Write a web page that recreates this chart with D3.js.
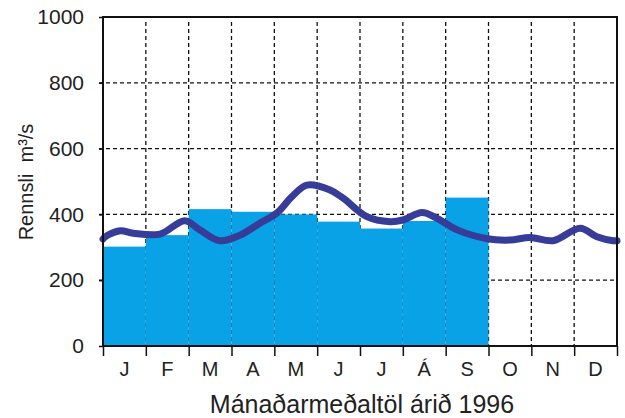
<!DOCTYPE html>
<html>
<head>
<meta charset="utf-8">
<script src="https://cdn.jsdelivr.net/npm/d3@7"></script>
<style>
  body { margin: 0; background: #fff; }
  svg text { font-family: "Liberation Sans", Arial, sans-serif; fill: #222; }
</style>
</head>
<body>
<svg id="chart" width="625" height="418"></svg>
<script>
// monthly means 1996 (bars, Jan-Sep only)
const months = ["J", "F", "M", "A", "M", "J", "J", "Á", "S", "O", "N", "D"]
const monthlyMeans = [302, 337, 416, 408, 400, 378, 357, 380, 451]

// daily flow trace, position in months from 1 Jan
const flowTime = [0, 0.05, 0.4, 0.7, 1.33, 1.91, 2.26, 2.73, 3.2, 3.67, 4.06, 4.41, 4.76, 5.3, 5.6, 6.16, 6.7, 7.0, 7.45, 7.8, 8.27, 8.97, 9.5, 9.97, 10.51, 11.14, 11.53, 11.91, 12]
const flowValue = [325, 332, 350, 343, 340, 381, 353, 320, 337, 374, 404, 454, 489, 474, 450, 393, 378, 383, 406, 388, 353, 326, 322, 330, 320, 358, 332, 320, 320]

const yTicks = [0, 200, 400, 600, 800, 1000]

const svg = d3.select('#chart')
const m = { left: 103, right: 617, top: 17, bottom: 346 }

const x = d3.scaleLinear().domain([0, 12]).range([m.left, m.right])
const y = d3.scaleLinear().domain([0, 1000]).range([m.bottom, m.top])

// grid
const grid = svg.append('g')
    .attr('stroke', '#111')
    .attr('stroke-width', 1.3)
    .attr('stroke-dasharray', '4,3')

grid.selectAll('.h')
    .data(yTicks.filter(d => d > 0 && d < 1000))
    .join('line')
    .attr('x1', m.left - 4)
    .attr('x2', m.right)
    .attr('y1', d => y(d))
    .attr('y2', d => y(d))

grid.selectAll('.v')
    .data(d3.range(1, 12))
    .join('line')
    .attr('x1', d => x(d))
    .attr('x2', d => x(d))
    .attr('y1', m.top + 5)
    .attr('y2', m.bottom)

// bars
svg.selectAll('.bar')
    .data(monthlyMeans)
    .join('rect')
    .attr('x', (d, i) => x(i))
    .attr('width', x(1) - x(0))
    .attr('y', d => y(d))
    .attr('height', d => y(0) - y(d))
    .attr('fill', '#0aa2e6')

// flow line
const line = d3.line()
    .x((d, i) => x(flowTime[i]))
    .y(d => y(d))
    .curve(d3.curveCatmullRom.alpha(0.5))

svg.append('path')
    .datum(flowValue)
    .attr('d', line)
    .attr('fill', 'none')
    .attr('stroke', '#363c98')
    .attr('stroke-width', 7)
    .attr('stroke-linecap', 'round')

// frame
svg.append('rect')
    .attr('x', m.left)
    .attr('y', m.top)
    .attr('width', m.right - m.left)
    .attr('height', m.bottom - m.top)
    .attr('fill', 'none')
    .attr('stroke', '#111')
    .attr('stroke-width', 2)

// y axis
const yAxis = svg.append('g')
    .attr('transform', `translate(${m.left},0)`)
    .call(d3.axisLeft(y).tickValues(yTicks).tickSize(4).tickPadding(15).tickFormat(d3.format('d')))
yAxis.select('.domain').remove()
yAxis.selectAll('line').attr('stroke', '#111').attr('stroke-width', 1.5)
yAxis.selectAll('text')
    .style('font-size', '21px')
    .attr('fill', '#222')

// x axis: ticks at month boundaries, labels centred
const xAxis = svg.append('g')
    .attr('transform', `translate(0,${m.bottom})`)
    .call(d3.axisBottom(x).tickValues(d3.range(0, 13)).tickSize(10).tickFormat(''))
xAxis.select('.domain').remove()
xAxis.selectAll('line').attr('stroke', '#111').attr('stroke-width', 1.5)

svg.selectAll('.mlab')
    .data(months)
    .join('text')
    .attr('x', (d, i) => x(i + 0.5))
    .attr('y', 376)
    .attr('text-anchor', 'middle')
    .style('font-size', '20px')
    .text(d => d)

svg.append('text')
    .attr('x', 362)
    .attr('y', 413)
    .attr('text-anchor', 'middle')
    .style('font-size', '25px')
    .text('Mánaðarmeðaltöl árið 1996')

svg.append('text')
    .attr('transform', 'translate(33,182) rotate(-90)')
    .attr('text-anchor', 'middle')
    .style('font-size', '20px')
    .text('Rennsli\u00a0\u00a0m³/s')
</script>
</body>
</html>
